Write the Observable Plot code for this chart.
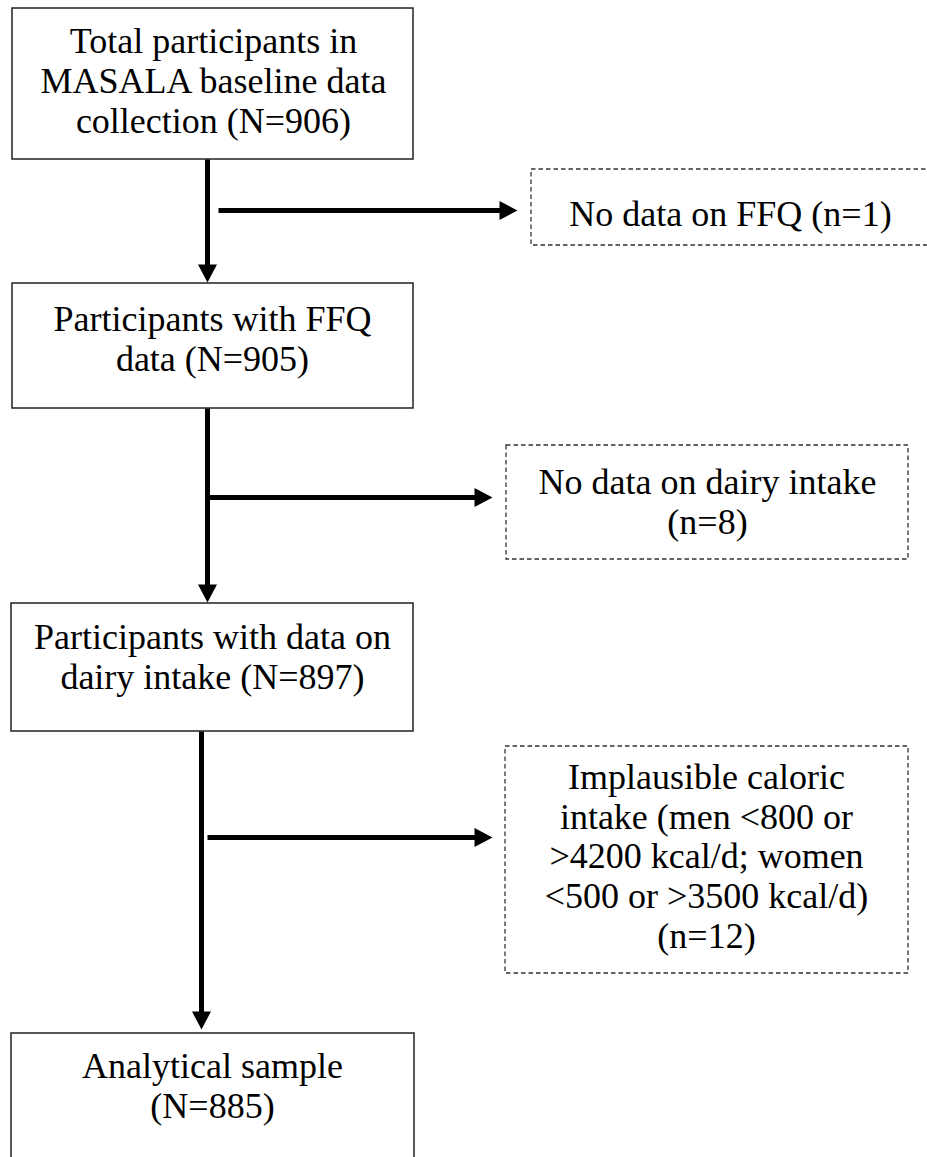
<!DOCTYPE html>
<html><head><meta charset="utf-8">
<script src="https://cdn.jsdelivr.net/npm/d3@7"></script>
<script src="https://cdn.jsdelivr.net/npm/@observablehq/plot@0.6"></script>
<style>html,body{margin:0;padding:0;background:#fff;overflow:hidden}</style>
</head><body><div id="chart"></div>
<script>
// ---- content ----
const stageLabels = ["Total participants in\nMASALA baseline data\ncollection", "Participants with FFQ\ndata", "Participants with data on\ndairy intake", "Analytical sample"];
const stageN = [906, 905, 897, 885];
const stageSep = [" ", " ", " ", "\n"];
const exclusionLabels = ["No data on FFQ", "No data on dairy intake", "Implausible caloric\nintake (men <800 or\n>4200 kcal/d; women\n<500 or >3500 kcal/d)"];
const exclusionN = [1, 8, 12];
const exclusionSep = [" ", "\n", "\n"];

// ---- layout (pixel coordinates in a 927 x 1157 frame) ----
const W = 927, H = 1157;
const stageBox = [[12, 413, 8, 159], [12, 413, 283, 408], [11, 413, 603, 731], [11, 414, 1033, 1180]];
const stageBaseline = [132, 370, 688, 1117];
const stageCx = [213, 212, 212, 212];
const sideBox = [[531, 935, 169, 245], [506, 908, 445, 559], [505, 908, 746, 973]];
const sideBaseline = [225, 533, 947];
const sideCx = [730, 707, 706];
const downArrows = [[207, 159, 282], [207, 408, 602], [201, 731, 1029]];
const sideArrows = [[210, 218, 517], [497, 207, 492], [837, 207, 492]];
const HEAD = 18;

const stages = stageLabels.map((t, i) => ({
  x1: stageBox[i][0], x2: stageBox[i][1], y1: stageBox[i][2], y2: stageBox[i][3],
  cx: stageCx[i], by: stageBaseline[i],
  text: `${t}${stageSep[i]}(N=${stageN[i]})`
}));
const sides = exclusionLabels.map((t, i) => ({
  x1: sideBox[i][0], x2: sideBox[i][1], y1: sideBox[i][2], y2: sideBox[i][3],
  cx: sideCx[i], by: sideBaseline[i],
  text: `${t}${exclusionSep[i]}(n=${exclusionN[i]})`
}));
const downs = downArrows.map(([x, y1, y2]) => ({x, y1, y2, ys: y2 - HEAD + 1}));
const rights = sideArrows.map(([y, x1, x2]) => ({y, x1, x2, xs: x2 - HEAD + 1}));

const font = "Liberation Serif";

const chart = Plot.plot({
  width: W, height: H, margin: 0,
  x: {domain: [0, W], range: [0, W], axis: null},
  y: {domain: [0, H], range: [0, H], axis: null},
  marks: [
    Plot.rect(stages, {x1: "x1", x2: "x2", y1: "y1", y2: "y2", fill: "white", stroke: "#222", strokeWidth: 1.5}),
    Plot.rect(sides, {x1: "x1", x2: "x2", y1: "y1", y2: "y2", fill: "white", stroke: "#333", strokeWidth: 1.3, strokeDasharray: "4.5,3"}),
    Plot.link(downs, {x1: "x", x2: "x", y1: "y1", y2: "ys", stroke: "#000", strokeWidth: 5}),
    Plot.link(rights, {x1: "x1", x2: "xs", y1: "y", y2: "y", stroke: "#000", strokeWidth: 5}),
    Plot.vector(downs, {x: "x", y: "y2", rotate: 180, length: HEAD, r: 9.5, shape: "spike", anchor: "end", fill: "#000", stroke: "none"}),
    Plot.vector(rights, {x: "x2", y: "y", rotate: 90, length: HEAD, r: 9.5, shape: "spike", anchor: "end", fill: "#000", stroke: "none"}),
    Plot.text(stages, {x: "cx", y: "by", text: "text", lineAnchor: "bottom", lineHeight: 1.1, fontSize: 36, fill: "#000", fontFamily: font}),
    Plot.text(sides, {x: "cx", y: "by", text: "text", lineAnchor: "bottom", lineHeight: 1.1, fontSize: 36, fill: "#000", fontFamily: font})
  ]
});
document.getElementById("chart").append(chart);
</script>
</body></html>
